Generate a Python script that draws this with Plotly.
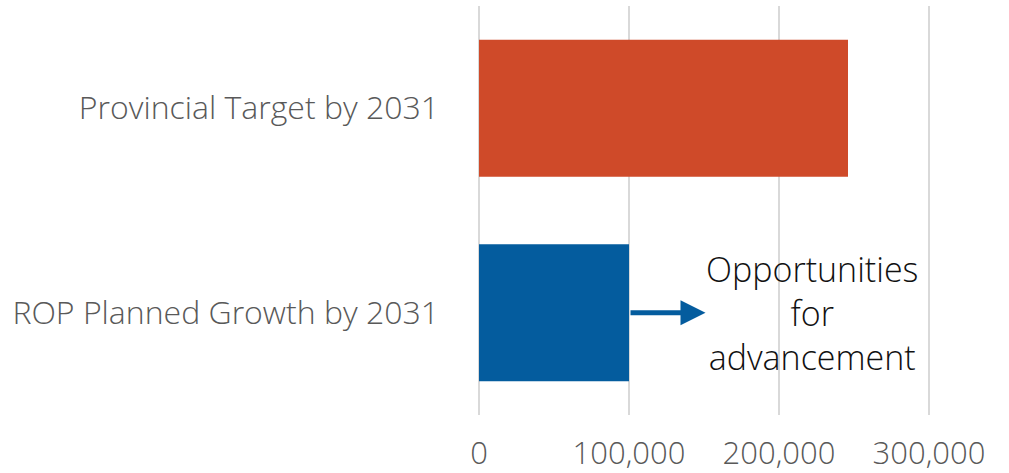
import plotly.graph_objects as go

categories = ["ROP Planned Growth by 2031", "Provincial Target by 2031"]
values = [100000, 246000]
bar_colors = ["#045C9E", "#CF4A29"]
x_ticks = [0, 100000, 200000, 300000]
x_tick_labels = ["0", "100,000", "200,000", "300,000"]
arrow_start = 100000
arrow_end = 151000
note_x = 222000
note_text = "Opportunities<br>for<br>advancement"

FONT = "Open Sans"

fig = go.Figure()
fig.add_trace(go.Bar(
    x=values, y=categories, orientation="h",
    marker=dict(color=bar_colors, line=dict(width=0)),
    showlegend=False, hoverinfo="skip",
))

fig.add_annotation(
    x=arrow_end, y=categories[0], ax=arrow_start, ay=categories[0],
    xref="x", yref="y", axref="x", ayref="y",
    text="", showarrow=True, arrowhead=2, arrowsize=1.0, arrowwidth=5,
    arrowcolor="#045C9E", standoff=0, startstandoff=0,
)
fig.add_annotation(
    x=note_x, y=categories[0], xref="x", yref="y",
    text=note_text, showarrow=False, align="center",
    font=dict(family=FONT, size=34, color="#111111", weight=300),
)

fig.update_layout(
    width=1009, height=473,
    margin=dict(l=476, r=77, t=6, b=58),
    paper_bgcolor="white", plot_bgcolor="white",
    bargap=0.33,
    font=dict(family=FONT, color="#595959"),
)
fig.update_xaxes(
    range=[-2000, 302000], tickvals=x_ticks, ticktext=x_tick_labels,
    showgrid=True, gridcolor="#D9D9D9", gridwidth=2,
    zeroline=False, showline=False, ticks="", automargin=False,
    tickfont=dict(family=FONT, size=31, color="#595959", weight=300),
    ticklabelstandoff=17,
)
fig.update_yaxes(
    showgrid=False, zeroline=False, showline=False, ticks="", automargin=False,
    tickfont=dict(family=FONT, size=32, color="#595959", weight=300),
    ticklabelstandoff=36,
)

fig.write_html("out.html")
